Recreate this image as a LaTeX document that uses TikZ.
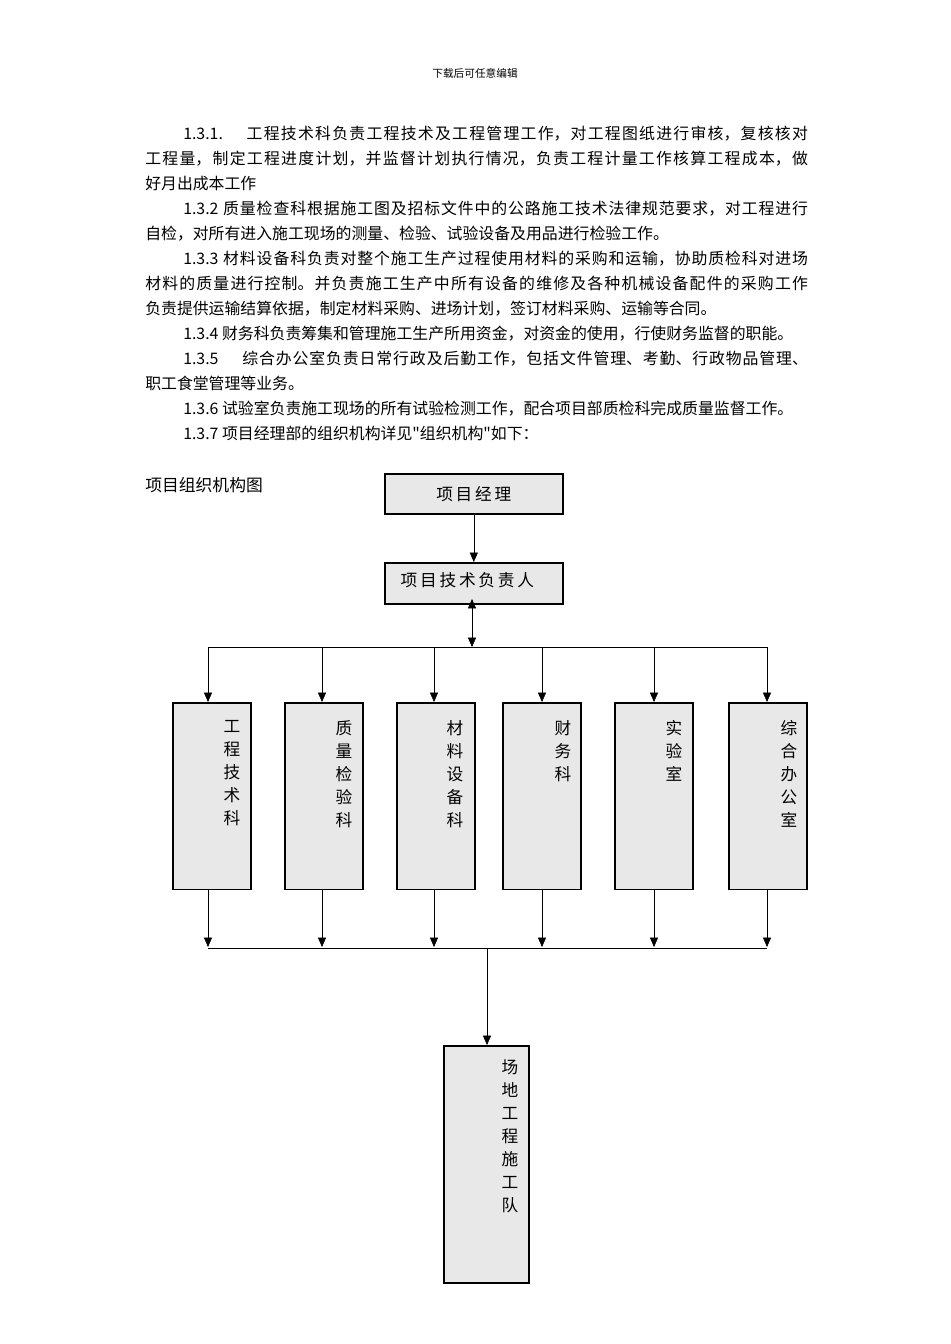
\documentclass[tikz,border=0pt]{standalone}
\usepackage{fontspec}
\setmainfont{Liberation Serif}
\newfontfamily\cjk{Noto Sans CJK SC}
\usetikzlibrary{arrows.meta}
\XeTeXlinebreaklocale "zh"
\XeTeXlinebreakskip=0pt plus 1pt
\begin{document}
\begin{tikzpicture}[x=0.75pt,y=-0.75pt,>={Triangle[length=7pt,width=6pt]}]
	\tikzstyle{unit}=[draw,line width=1.2pt,fill=gray!18,inner sep=0pt,anchor=north west]
	\tikzstyle{para}=[anchor=north west,inner sep=0pt,text width=497pt,align=justify,font=\cjk\fontsize{11.9}{18.75}\selectfont]
	\tikzstyle{vtext}=[anchor=north,inner sep=0pt,align=center,font=\cjk\fontsize{12.5}{17.25}\selectfont]
	\useasboundingbox (0,0) rectangle (950,1344);
	
	\node[anchor=center,font=\cjk\fontsize{8}{10}\selectfont](head) at (475,73){下载后可任意编辑};
	
	\node[para](p1) at (145,126){\hspace*{28.5pt}1.3.1.\hspace{1.5em}工程技术科负责工程技术及工程管理工作，对工程图纸进行审核，复核核对\linebreak
工程量，制定工程进度计划，并监督计划执行情况，负责工程计量工作核算工程成本，做\linebreak
好月出成本工作\\
\hspace*{28.5pt}1.3.2 质量检查科根据施工图及招标文件中的公路施工技术法律规范要求，对工程进行\linebreak
自检，对所有进入施工现场的测量、检验、试验设备及用品进行检验工作。\\
\hspace*{28.5pt}1.3.3 材料设备科负责对整个施工生产过程使用材料的采购和运输，协助质检科对进场\linebreak
材料的质量进行控制。并负责施工生产中所有设备的维修及各种机械设备配件的采购工作\linebreak
负责提供运输结算依据，制定材料采购、进场计划，签订材料采购、运输等合同。\\
\hspace*{28.5pt}1.3.4 财务科负责筹集和管理施工生产所用资金，对资金的使用，行使财务监督的职能。\\
\hspace*{28.5pt}1.3.5\hspace{1.5em}综合办公室负责日常行政及后勤工作，包括文件管理、考勤、行政物品管理、\linebreak
职工食堂管理等业务。\\
\hspace*{28.5pt}1.3.6 试验室负责施工现场的所有试验检测工作，配合项目部质检科完成质量监督工作。\\
\hspace*{28.5pt}1.3.7 项目经理部的组织机构详见"组织机构"如下：};
	
	\node[anchor=west,inner sep=0pt,font=\cjk\fontsize{12.6}{15}\selectfont](title) at (145,485){项目组织机构图};
	
	% top boxes
	\node[unit,minimum width=133.5pt,minimum height=30pt](pm) at (384,473){};
	\node[font=\cjk\fontsize{12.5}{15}\selectfont] at (pm.center){项\,目\,经\,理};
	\node[unit,minimum width=133.5pt,minimum height=30.75pt](tech) at (384,562){};
	\node[anchor=west,font=\cjk\fontsize{12.5}{15}\selectfont] at (396,580){项\,目\,技\,术\,负\,责\,人};
	\draw[->] (pm.south) -- (tech.north);
	\coordinate (split) at (472,647);
	\draw[<->] (472,599) -- (split);
	\draw (208,647) -- (767,647);
	
	% departments
	\foreach \n/\x/\tx/\t in {d1/172/232/工\\程\\技\\术\\科, d2/284/344/质\\量\\检\\验\\科, d3/396/455/材\\料\\设\\备\\科, d4/502/563/财\\务\\科, d5/614/674/实\\验\\室, d6/728/789/综\\合\\办\\公\\室}{
		\node[unit,minimum width=58.5pt,minimum height=140pt](\n) at (\x,702){};
		\node[vtext] at (\tx,720){\t};
	}
	\foreach \n/\x in {d1/208,d2/322,d3/434,d4/542,d5/654,d6/767}{
		\draw[->] (\x,647) -- (\x,702);
		\draw[->] (\x,889) -- (\x,947);
	}
	\draw (208,948) -- (767,948);
	
	% team
	\node[unit,minimum width=63.75pt,minimum height=177.75pt](team) at (443,1045){};
	\node[vtext] at (510,1059){场\\地\\工\\程\\施\\工\\队};
	\draw[->] (487,948) -- (team.north -| 487,0);
\end{tikzpicture}
\end{document}
